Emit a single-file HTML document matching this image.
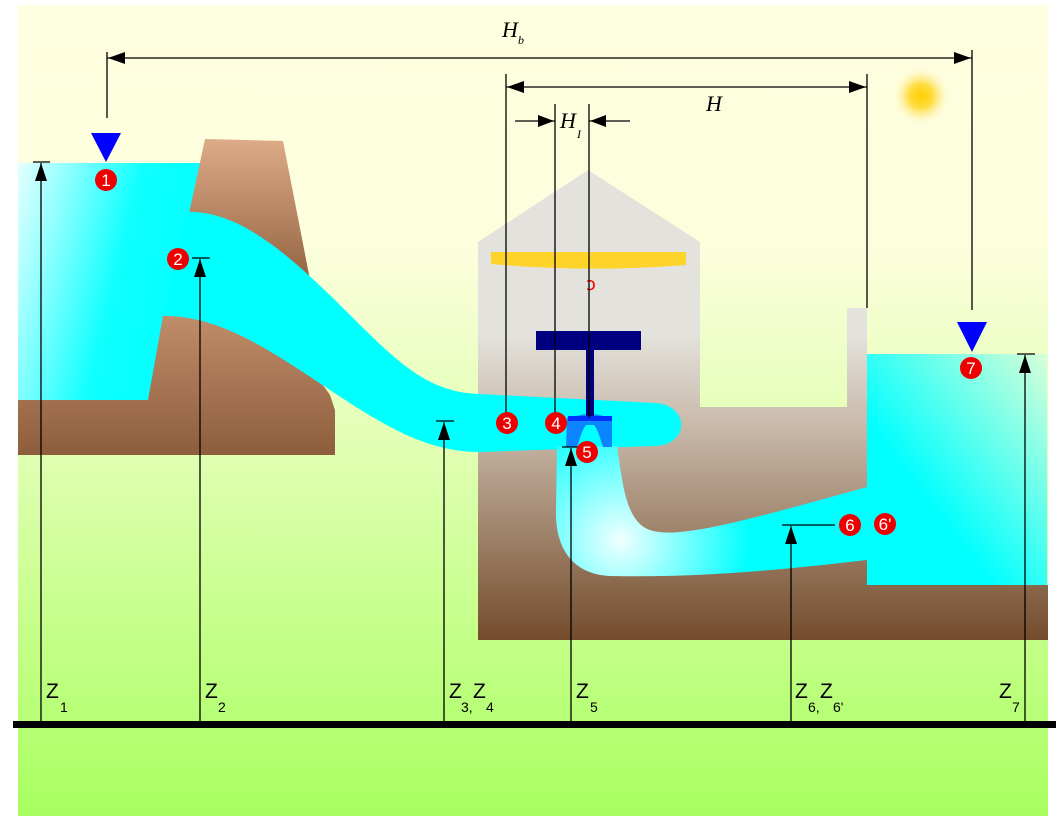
<!DOCTYPE html>
<html><head><meta charset="utf-8"><style>html,body{margin:0;padding:0;background:#fff;}svg{display:block}</style></head>
<body>
<svg width="1056" height="816" viewBox="0 0 1056 816" xmlns="http://www.w3.org/2000/svg">
<defs>
<linearGradient id="bg" x1="0" y1="0" x2="0" y2="1">
<stop offset="0" stop-color="#fefee0"/><stop offset="0.3" stop-color="#fcfedc"/><stop offset="0.55" stop-color="#e0ffb2"/><stop offset="1" stop-color="#a8ff60"/></linearGradient>
<linearGradient id="dam" x1="0" y1="0" x2="0" y2="1"><stop offset="0" stop-color="#deab88"/><stop offset="1" stop-color="#8e5e3c"/></linearGradient>
<linearGradient id="dam2" x1="0" y1="316" x2="0" y2="455" gradientUnits="userSpaceOnUse"><stop offset="0" stop-color="#c08c6a"/><stop offset="1" stop-color="#8e5e3c"/></linearGradient>
<linearGradient id="bld" x1="0" y1="170" x2="0" y2="640" gradientUnits="userSpaceOnUse"><stop offset="0.35" stop-color="#e3e2dc"/><stop offset="0.55" stop-color="#c8b8a8"/><stop offset="1" stop-color="#744c2c"/></linearGradient>
<linearGradient id="res1" x1="0" y1="0" x2="1" y2="0.3"><stop offset="0" stop-color="#e6ffff"/><stop offset="0.6" stop-color="#10ffff"/><stop offset="1" stop-color="#00ffff"/></linearGradient>
<linearGradient id="res2" x1="0" y1="1" x2="1" y2="0"><stop offset="0.35" stop-color="#00ffff"/><stop offset="1" stop-color="#d8ffd8"/></linearGradient>
<radialGradient id="dt" cx="620" cy="540" r="130" gradientUnits="userSpaceOnUse"><stop offset="0" stop-color="#f0ffff"/><stop offset="1" stop-color="#00ffff"/></radialGradient>
<radialGradient id="sun"><stop offset="0" stop-color="#ffd000"/><stop offset="0.4" stop-color="#ffdc40"/><stop offset="1" stop-color="#fefee0" stop-opacity="0"/></radialGradient>
</defs>
<rect x="18" y="5" width="1030" height="811" fill="url(#bg)"/>
<circle cx="921" cy="96" r="30" fill="url(#sun)"/>
<!-- building -->
<polygon points="478,242 588,170 700,242 700,407 847,407 847,308 867,308 867,585 1048,585 1048,640 478,640" fill="url(#bld)"/>
<rect x="867" y="354" width="180" height="231" fill="url(#res2)"/>
<!-- left reservoir -->
<path d="M18,163 L210,163 L200,230 L165,316 L148,400 L18,400 Z" fill="url(#res1)"/>
<!-- dam -->
<polygon points="205,139 283,141 312,290 188,218" fill="url(#dam)"/>
<path d="M18,400 L148,400 L163,316 C240,310 300,350 330,395 L335,410 L335,455 L18,455 Z" fill="url(#dam2)"/>
<!-- penstock -->
<path d="M186,212 C240,210 290,255 350,315 C400,365 430,393 480,394 L655,403 C690,405 690,445 655,446 L480,452 C430,452 390,430 330,390 C270,350 220,316 165,316 Z" fill="#00ffff"/>
<!-- draft tube -->
<path d="M557,446 L617,446 C622,480 625,510 640,524 C660,544 720,528 867,487 L867,560 C780,570 700,578 610,576 C570,574 555,545 556,510 Z" fill="url(#dt)"/>
<!-- generator -->
<path d="M491,252 L686,252 L686,265 C620,270 560,270 491,264 Z" fill="#ffd42a"/>
<text x="586" y="290" font-family="DejaVu Sans,sans-serif" font-size="18" fill="#f00">ↄ</text>
<!-- turbine -->
<rect x="536" y="331" width="105" height="19" fill="#000080"/>
<rect x="586" y="349" width="8" height="70" fill="#000080"/>
<path d="M567,418 L585,414 L590,422 L595,414 L612,418 L612,447 L603,447 C600,438 598,430 594,425 L586,425 C582,430 580,438 577,447 L566,447 Z" fill="#0a84ff"/>
<path d="M568,416 L612,416 L612,421 L568,421 Z" fill="#0030ff"/>
<!-- dimension lines -->
<g stroke="#000" stroke-width="1.3" fill="none">
<line x1="107" y1="52" x2="107" y2="118"/><line x1="972" y1="50" x2="972" y2="310"/>
<line x1="107" y1="58" x2="972" y2="58"/>
<line x1="506" y1="74" x2="506" y2="423"/><line x1="867" y1="74" x2="867" y2="308"/>
<line x1="506" y1="87" x2="867" y2="87"/>
<line x1="555" y1="104" x2="555" y2="423"/><line x1="589" y1="104" x2="589" y2="418"/>
<line x1="515" y1="121" x2="555" y2="121"/><line x1="589" y1="121" x2="630" y2="121"/>
<line x1="41" y1="163" x2="41" y2="724"/><line x1="33" y1="162" x2="50" y2="162"/>
<line x1="200" y1="259" x2="200" y2="724"/><line x1="192" y1="258" x2="210" y2="258"/>
<line x1="444" y1="422" x2="444" y2="724"/><line x1="436" y1="421" x2="454" y2="421"/>
<line x1="571" y1="448" x2="571" y2="724"/><line x1="562" y1="447" x2="580" y2="447"/>
<line x1="791" y1="526" x2="791" y2="724"/><line x1="782" y1="525" x2="835" y2="525"/>
<line x1="1025" y1="355" x2="1025" y2="724"/><line x1="1017" y1="354" x2="1035" y2="354"/>
</g>
<g fill="#000">
<polygon points="108,58 125,52 125,64"/><polygon points="971,58 954,52 954,64"/>
<polygon points="507,87 524,81 524,93"/><polygon points="866,87 849,81 849,93"/>
<polygon points="554,121 538,115 538,127"/><polygon points="590,121 606,115 606,127"/>
<polygon points="41,163 35,181 47,181"/><polygon points="200,259 194,277 206,277"/>
<polygon points="444,422 438,440 450,440"/><polygon points="571,448 565,466 577,466"/>
<polygon points="791,526 785,544 797,544"/><polygon points="1025,355 1019,373 1031,373"/>
</g>
<rect x="13" y="721" width="1043" height="7" fill="#000"/>
<polygon points="91,133 121,133 106,162" fill="#0000ff"/>
<polygon points="957,322 987,322 972,352" fill="#0000ff"/>
<g font-family="Liberation Sans,sans-serif" font-size="17" fill="#fff" text-anchor="middle">
<circle cx="106" cy="180" r="11" fill="#e00"/><text x="106" y="186">1</text>
<circle cx="178" cy="259" r="11" fill="#e00"/><text x="178" y="265">2</text>
<circle cx="507" cy="423" r="11" fill="#e00"/><text x="507" y="429">3</text>
<circle cx="556" cy="423" r="11" fill="#e00"/><text x="556" y="429">4</text>
<circle cx="587" cy="452" r="11" fill="#e00"/><text x="587" y="458">5</text>
<circle cx="850" cy="525" r="11" fill="#e00"/><text x="850" y="531">6</text>
<circle cx="885" cy="524" r="11" fill="#e00"/><text x="885" y="530">6'</text>
<circle cx="971" cy="368" r="11" fill="#e00"/><text x="971" y="374">7</text>
</g>
<g font-family="Liberation Serif,serif" font-style="italic" fill="#000">
<text x="502" y="37" font-size="22">H</text><text x="518" y="44" font-size="12">b</text>
<text x="706" y="111" font-size="22">H</text>
<text x="560" y="128" font-size="22">H</text><text x="577" y="138" font-size="12">I</text>
</g>
<g font-family="Liberation Sans,sans-serif" fill="#000">
<text x="46" y="698" font-size="21">Z</text><text x="60" y="712" font-size="14">1</text>
<text x="205" y="698" font-size="21">Z</text><text x="218" y="712" font-size="14">2</text>
<text x="449" y="698" font-size="21">Z</text><text x="461" y="712" font-size="14">3,</text>
<text x="473" y="698" font-size="21">Z</text><text x="486" y="712" font-size="14">4</text>
<text x="576" y="698" font-size="21">Z</text><text x="590" y="712" font-size="14">5</text>
<text x="795" y="698" font-size="21">Z</text><text x="808" y="712" font-size="14">6,</text>
<text x="820" y="698" font-size="21">Z</text><text x="833" y="712" font-size="14">6'</text>
<text x="999" y="698" font-size="21">Z</text><text x="1012" y="712" font-size="14">7</text>
</g>
</svg>
</body></html>
